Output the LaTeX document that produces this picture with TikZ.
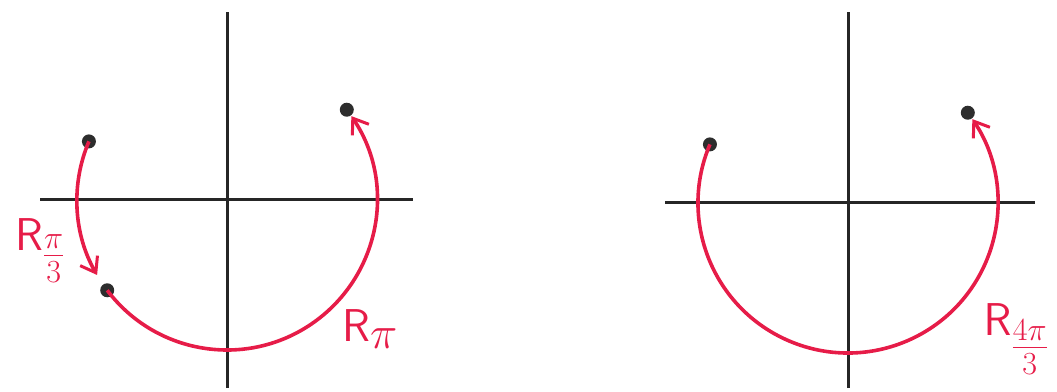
\RequirePackage{fix-cm}
\documentclass[tikz,border=0pt]{standalone}
\usetikzlibrary{arrows.meta}
\definecolor{penred}{RGB}{230,28,72}
\definecolor{dotgrey}{RGB}{45,45,45}

\begin{document}
\begin{tikzpicture}[
    x=1pt, y=1pt,
    axis/.style={line width=3pt, black!85},
    pen/.style={line width=3.6pt, penred},
    rot/.style={pen, -{Straight Barb[length=14pt, width=20pt, line width=3pt]}},
    dot/.style={circle, fill=dotgrey, inner sep=0pt, minimum size=14pt},
    lab/.style={text=penred, font=\fontsize{46}{50}\selectfont}
]
\useasboundingbox (0,0) rectangle (1057,391);
% left: rotations by pi/3 then pi
\coordinate (oL) at (227,191);
\draw[axis] (227,3) coordinate (yLs) -- (227,379) coordinate (yLe);
\draw[axis] (40,191) coordinate (xLs) -- (413,191) coordinate (xLe);
\node[dot] (startL) at ([shift={(157:150)}]oL) {};
\node[dot] (midL) at ([shift={(217:150)}]oL) {};
\node[dot] (endL) at ([shift={(37:150)}]oL) {};
\draw[rot] (startL.center) arc[start angle=157, end angle=210, radius=150];
\draw[rot] (midL.center) arc[start angle=217, end angle=394, radius=150];
\node[lab] (rthird) at (40,140) {$\mathsf{R}_{\textstyle\frac{\pi}{3}}$};
\node[lab] (rpi) at (370,62) {$\mathsf{R}_{\textstyle\pi}$};
% right: one rotation by 4pi/3
\coordinate (oR) at (848,188);
\draw[axis] (848,3) coordinate (yRs) -- (848,379) coordinate (yRe);
\draw[axis] (665,188) coordinate (xRs) -- (1035,188) coordinate (xRe);
\node[dot] (startR) at ([shift={(157:150)}]oR) {};
\node[dot] (endR) at ([shift={(37:150)}]oR) {};
\draw[rot] (startR.center) arc[start angle=157, end angle=394, radius=150];
\node[lab] (rfour) at (1016,52) {$\mathsf{R}_{\textstyle\frac{4\pi}{3}}$};
\end{tikzpicture}
\end{document}
